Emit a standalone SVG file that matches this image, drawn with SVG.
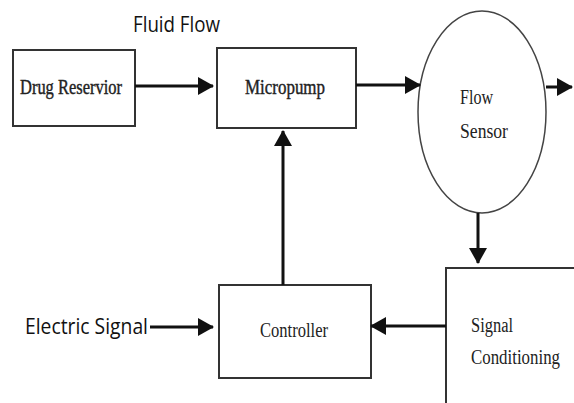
<svg xmlns="http://www.w3.org/2000/svg" width="574" height="403" viewBox="0 0 574 403">
<style>
.box{fill:#fff;stroke:#333;stroke-width:2}
.ser{font-family:"Liberation Serif","DejaVu Serif",serif;font-size:20px;fill:#222}
.b{stroke:#222;stroke-width:0.4}
.sans{font-family:"Open Sans","Liberation Sans",sans-serif;font-size:22px;fill:#111}
.con{stroke:#111;stroke-width:3;fill:none}
</style>
<defs>
<marker id="ah" markerUnits="userSpaceOnUse" markerWidth="16" markerHeight="18" refX="15" refY="9" orient="auto">
<path d="M0,0 L16,9 L0,18 Z" fill="#111"/>
</marker>
</defs>
<rect width="574" height="403" fill="#fff"/>
<text class="sans" x="133" y="32" textLength="87" lengthAdjust="spacingAndGlyphs">Fluid Flow</text>
<text class="sans" x="25" y="334" textLength="123" lengthAdjust="spacingAndGlyphs">Electric Signal</text>
<g id="drug-reservoir">
<rect class="box" x="13" y="50" width="122" height="76"/>
<text class="ser b" x="20" y="94" textLength="102" lengthAdjust="spacingAndGlyphs">Drug Reservior</text>
</g>
<g id="micropump">
<rect class="box" x="217" y="48" width="139" height="80"/>
<text class="ser b" x="245" y="94" textLength="80" lengthAdjust="spacingAndGlyphs">Micropump</text>
</g>
<g id="flow-sensor">
<ellipse cx="482" cy="112" rx="64" ry="101" fill="#fff" stroke="#444" stroke-width="1.5"/>
<text class="ser" x="460" y="104" textLength="33" lengthAdjust="spacingAndGlyphs">Flow</text>
<text class="ser" x="460" y="138" textLength="48" lengthAdjust="spacingAndGlyphs">Sensor</text>
</g>
<g id="signal-conditioning">
<rect class="box" x="446" y="268" width="140" height="150"/>
<text class="ser" x="471" y="332" textLength="42" lengthAdjust="spacingAndGlyphs">Signal</text>
<text class="ser" x="471" y="364" textLength="89" lengthAdjust="spacingAndGlyphs">Conditioning</text>
</g>
<g id="controller">
<rect class="box" x="219" y="285" width="152" height="93"/>
<text class="ser" x="260" y="337" textLength="68" lengthAdjust="spacingAndGlyphs">Controller</text>
</g>
<g id="connectors">
<line class="con" x1="135" y1="86" x2="213" y2="86" marker-end="url(#ah)"/>
<line class="con" x1="356" y1="85" x2="420" y2="85" marker-end="url(#ah)"/>
<line class="con" x1="546" y1="87" x2="572" y2="87" marker-end="url(#ah)"/>
<line class="con" x1="478" y1="213" x2="478" y2="263" marker-end="url(#ah)"/>
<line class="con" x1="446" y1="326" x2="371" y2="326" marker-end="url(#ah)"/>
<line class="con" x1="283" y1="285" x2="283" y2="131" stroke-width="2" marker-end="url(#ah)"/>
<line class="con" x1="150" y1="327" x2="213" y2="327" marker-end="url(#ah)"/>
</g>
</svg>
